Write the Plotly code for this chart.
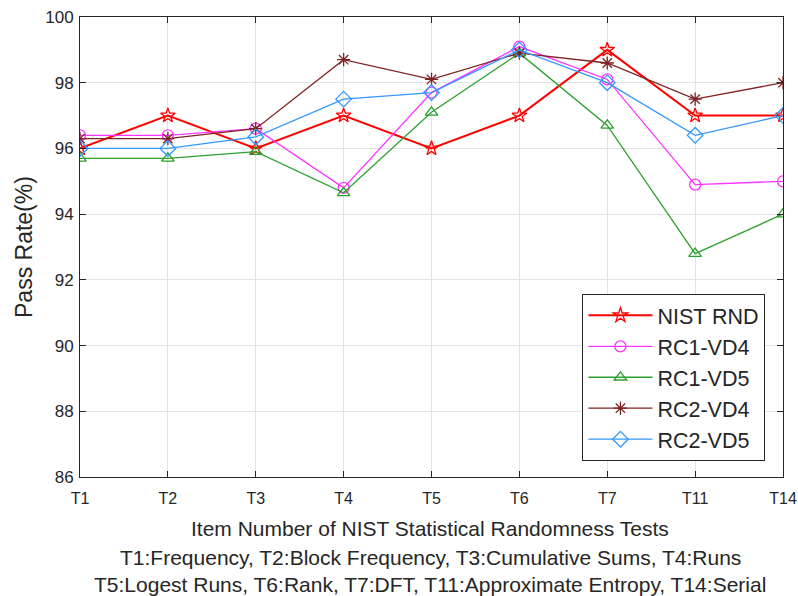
import plotly.graph_objects as go

categories = ["T1", "T2", "T3", "T4", "T5", "T6", "T7", "T11", "T14"]
nist_rnd = [96.0, 97.0, 96.0, 97.0, 96.0, 97.0, 99.0, 97.0, 97.0]
rc1_vd4 = [96.4, 96.4, 96.6, 94.8, 97.7, 99.1, 98.1, 94.9, 95.0]
rc1_vd5 = [95.7, 95.7, 95.9, 94.65, 97.1, 98.9, 96.7, 92.8, 94.0]
rc2_vd4 = [96.3, 96.3, 96.6, 98.7, 98.1, 98.9, 98.6, 97.5, 98.0]
rc2_vd5 = [96.0, 96.0, 96.35, 97.5, 97.7, 99.0, 98.0, 96.4, 97.0]
y_ticks = [86, 88, 90, 92, 94, 96, 98, 100]

series = [
    ("NIST RND", nist_rnd, "#ff0000", "star-open", 11, 2.0),
    ("RC1-VD4", rc1_vd4, "#ff33ff", "circle-open", 11, 1.3),
    ("RC1-VD5", rc1_vd5, "#2ca02c", "triangle-up-open", 11, 1.3),
    ("RC2-VD4", rc2_vd4, "#7e2222", "asterisk-open", 11, 1.3),
    ("RC2-VD5", rc2_vd5, "#3399ff", "diamond-open", 12, 1.3),
]

fig = go.Figure()
xs = list(range(len(categories)))
for name, vals, color, sym, size, w in series:
    fig.add_trace(go.Scatter(
        x=xs, y=vals, name=name, mode="lines+markers",
        line=dict(color=color, width=w),
        marker=dict(symbol=sym, size=size, color=color, line=dict(color=color, width=1.3)),
    ))

axis_color = "#262626"
font_family = "Liberation Sans, Arial, sans-serif"
fig.update_layout(
    width=798, height=596,
    margin=dict(l=80, r=15, t=17, b=119),
    paper_bgcolor="white", plot_bgcolor="white",
    font=dict(family=font_family, color=axis_color, size=15),
    showlegend=True,
    legend=dict(
        x=0.975, y=0.035, xanchor="right", yanchor="bottom",
        bordercolor="#262626", borderwidth=1, bgcolor="white",
        font=dict(size=21.5, color="#262626", family=font_family),
        tracegroupgap=0, itemwidth=64,
    ),
    xaxis=dict(
        range=[0, len(categories) - 1],
        tickmode="array", tickvals=xs, ticktext=categories,
        showgrid=True, gridcolor="#e3e3e3", gridwidth=1,
        showline=True, linecolor=axis_color, linewidth=1, mirror="ticks",
        ticks="inside", ticklen=6, tickcolor=axis_color,
        zeroline=False, tickfont=dict(size=16), automargin=False,
        ticklabelstandoff=7,
    ),
    yaxis=dict(
        range=[86, 100],
        tickmode="array", tickvals=y_ticks, ticktext=[str(v) for v in y_ticks],
        showgrid=True, gridcolor="#e3e3e3", gridwidth=1,
        showline=True, linecolor=axis_color, linewidth=1, mirror="ticks",
        ticks="inside", ticklen=6, tickcolor=axis_color,
        zeroline=False, tickfont=dict(size=17), automargin=False,
        ticklabelstandoff=2,
    ),
)

fig.add_annotation(
    text="Pass Rate(%)", xref="paper", yref="paper",
    x=(24 - 80) / 703.0, y=(477 - 247) / 460.0, xanchor="center", yanchor="middle",
    textangle=-90, showarrow=False, font=dict(size=23, color=axis_color),
)

lines = [
    ("Item Number of NIST Statistical Randomness Tests", 528),
    ("T1:Frequency, T2:Block Frequency, T3:Cumulative Sums, T4:Runs", 557),
    ("T5:Logest Runs, T6:Rank, T7:DFT, T11:Approximate Entropy, T14:Serial", 584),
]
for text, py in lines:
    fig.add_annotation(
        text=text, xref="paper", yref="paper",
        x=(430 - 80) / 703.0, y=(477 - py) / 460.0, xanchor="center", yanchor="middle",
        showarrow=False, font=dict(size=21, color=axis_color), borderpad=0,
    )

fig.write_html("out.html")
